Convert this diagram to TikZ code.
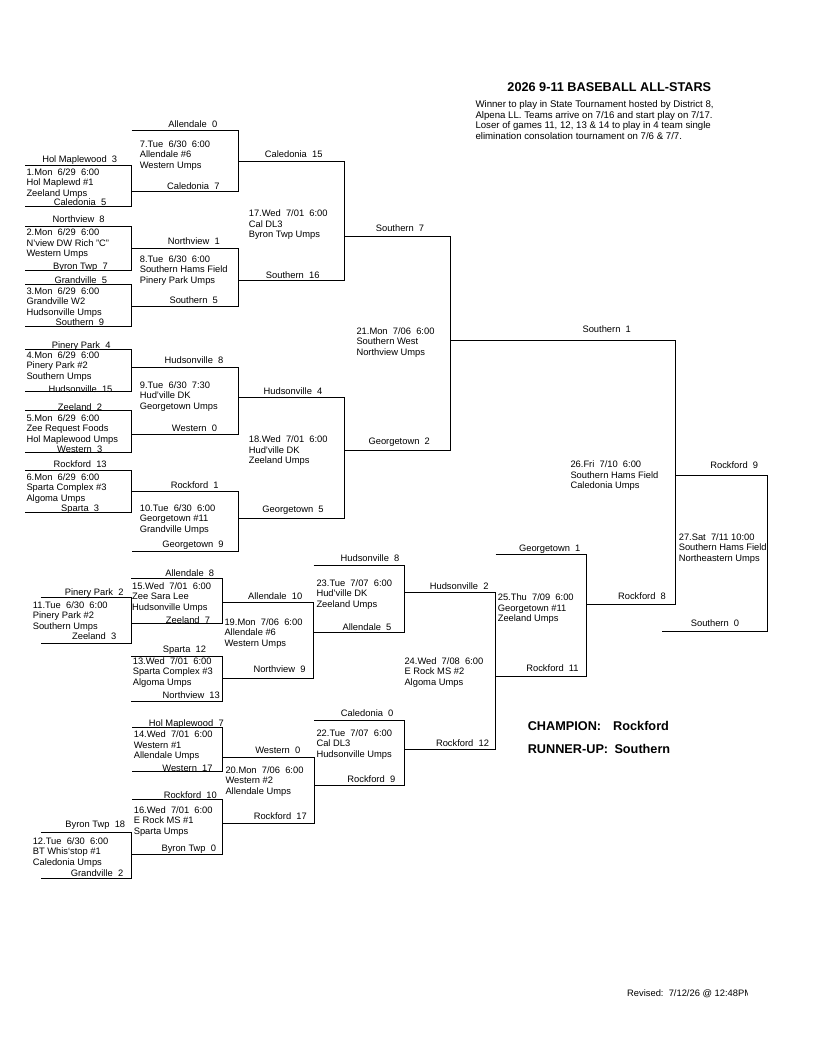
\documentclass[tikz,border=0pt]{standalone}
\usepackage{fontspec}
\setmainfont{Liberation Sans}

\begin{document}
\begin{tikzpicture}[x=1pt, y=-1pt, line width=1pt,
    team/.style={font=\fontsize{9.35}{10.5}\selectfont, anchor=base, inner sep=0pt},
    game/.style={font=\fontsize{9.35}{10.5}\selectfont, align=left, anchor=base west, inner sep=0pt},
    big/.style={font=\fontsize{12.7}{14}\selectfont\bfseries, inner sep=0pt}]
    \useasboundingbox[fill=white] (0,0) rectangle (816,1056);
    % heading
    \node[big, anchor=base] (title) at (609.3,91.8) {2026 9-11 BASEBALL ALL-STARS};
    \node[game, font=\fontsize{9.65}{10.5}\selectfont] (note) at (475,139.2) {Winner to play in State Tournament hosted by District 8,\\Alpena LL. Teams arrive on 7/16 and start play on 7/17.\\Loser of games 11, 12, 13 \& 14 to play in 4 team single\\elimination consolation tournament on 7/6 \& 7/7.};
    % games, first rounds (base = last line)
    \node[game] (g1) at (26,196.4) {1.Mon~~6/29~~6:00\\Hol Maplewd \#1\\Zeeland Umps};
    \node[game] (g2) at (26,256.7) {2.Mon~~6/29~~6:00\\N'view DW Rich "C"\\Western Umps};
    \node[game] (g3) at (26,315.4) {3.Mon~~6/29~~6:00\\Grandville W2\\Hudsonville Umps};
    \node[game] (g4) at (26,379.1) {4.Mon~~6/29~~6:00\\Pinery Park \#2\\Southern Umps};
    \node[game] (g5) at (26,442.4) {5.Mon~~6/29~~6:00\\Zee Request Foods\\Hol Maplewood Umps};
    \node[game] (g6) at (26,501.1) {6.Mon~~6/29~~6:00\\Sparta Complex \#3\\Algoma Umps};
    \node[game] (g7) at (139.3,168.4) {7.Tue~~6/30~~6:00\\Allendale \#6\\Western Umps};
    \node[game] (g8) at (139.3,283.4) {8.Tue~~6/30~~6:00\\Southern Hams Field\\Pinery Park Umps};
    \node[game] (g9) at (139.3,409.4) {9.Tue~~6/30~~7:30\\Hud'ville DK\\Georgetown Umps};
    \node[game] (g10) at (139.3,532.1) {10.Tue~~6/30~~6:00\\Georgetown \#11\\Grandville Umps};
    \node[game] (g11) at (32.3,629.4) {11.Tue~~6/30~~6:00\\Pinery Park \#2\\Southern Umps};
    \node[game] (g12) at (32.3,865.1) {12.Tue~~6/30~~6:00\\BT Whis`stop \#1\\Caledonia Umps};
    \node[game] (g13) at (132.3,685.4) {13.Wed~~7/01~~6:00\\Sparta Complex \#3\\Algoma Umps};
    \node[game] (g14) at (133.3,758.7) {14.Wed~~7/01~~6:00\\Western \#1\\Allendale Umps};
    \node[game] (g15) at (131.7,610.4) {15.Wed~~7/01~~6:00\\Zee Sara Lee\\Hudsonville Umps};
    \node[game] (g16) at (133.3,834.4) {16.Wed~~7/01~~6:00\\E Rock MS \#1\\Sparta Umps};
    % games, later rounds
    \node[game] (g17) at (248.3,237.7) {17.Wed~~7/01~~6:00\\Cal DL3\\Byron Twp Umps};
    \node[game] (g18) at (248.3,463.7) {18.Wed~~7/01~~6:00\\Hud'ville DK\\Zeeland Umps};
    \node[game] (g19) at (224,646.1) {19.Mon~~7/06~~6:00\\Allendale \#6\\Western Umps};
    \node[game] (g20) at (225,794.4) {20.Mon~~7/06~~6:00\\Western \#2\\Allendale Umps};
    \node[game] (g21) at (356,355.1) {21.Mon~~7/06~~6:00\\Southern West\\Northview Umps};
    \node[game] (g22) at (316,757.1) {22.Tue~~7/07~~6:00\\Cal DL3\\Hudsonville Umps};
    \node[game] (g23) at (316,607.1) {23.Tue~~7/07~~6:00\\Hud'ville DK\\Zeeland Umps};
    \node[game] (g24) at (404,685.1) {24.Wed~~7/08~~6:00\\E Rock MS \#2\\Algoma Umps};
    \node[game] (g25) at (497.3,621.7) {25.Thu~~7/09~~6:00\\Georgetown \#11\\Zeeland Umps};
    \node[game] (g26) at (570,488.7) {26.Fri~~7/10~~6:00\\Southern Hams Field\\Caledonia Umps};
    \node[game] (g27) at (678.3,561.1) {27.Sat~~7/11 10:00\\Southern Hams Field\\Northeastern Umps};
    % teams, top half
    \node[team] (t1a) at (79.7,162.7) {Hol Maplewood~~3};
    \node[team] (t1b) at (80,205.7) {Caledonia~~5};
    \node[team] (t2a) at (78.7,222.1) {Northview~~8};
    \node[team] (t2b) at (80.5,269.1) {Byron Twp~~7};
    \node[team] (t3a) at (80.8,283.4) {Grandville~~5};
    \node[team] (t3b) at (79.8,325.7) {Southern~~9};
    \node[team] (t4a) at (81.2,348.1) {Pinery Park~~4};
    \node[team] (t4b) at (80.5,392.4) {Hudsonville~~15};
    \node[team] (t5a) at (80,410.1) {Zeeland~~2};
    \node[team] (t5b) at (79.7,452.1) {Western~~3};
    \node[team] (t6a) at (80.2,467.1) {Rockford~~13};
    \node[team] (t6b) at (80.2,511.1) {Sparta~~3};
    \node[team] (t7a) at (192.8,127.4) {Allendale~~0};
    \node[team] (t7b) at (193.3,189.4) {Caledonia~~7};
    \node[team] (t8a) at (193.8,244.1) {Northview~~1};
    \node[team] (t8b) at (193.7,303.4) {Southern~~5};
    \node[team] (t9a) at (194,363.4) {Hudsonville~~8};
    \node[team] (t9b) at (194.5,431.1) {Western~~0};
    \node[team] (t10a) at (194.7,488.7) {Rockford~~1};
    \node[team] (t10b) at (193,547.7) {Georgetown~~9};
    \node[team] (t17a) at (293.7,157.4) {Caledonia~~15};
    \node[team] (t17b) at (292.7,278.4) {Southern~~16};
    \node[team] (t18a) at (293,394.1) {Hudsonville~~4};
    \node[team] (t18b) at (293,512.1) {Georgetown~~5};
    \node[team] (t21a) at (400,231.7) {Southern~~7};
    \node[team] (t21b) at (399.2,444.1) {Georgetown~~2};
    \node[team] (t26a) at (606.7,332.7) {Southern~~1};
    \node[team] (t26b) at (642,599.1) {Rockford~~8};
    \node[team] (t27a) at (734.2,468.7) {Rockford~~9};
    \node[team] (t27b) at (715,626.1) {Southern~~0};
    % teams, bottom half
    \node[team] (t11a) at (94.2,595.4) {Pinery Park~~2};
    \node[team] (t11b) at (94.2,639.1) {Zeeland~~3};
    \node[team] (t12a) at (95.3,827.4) {Byron Twp~~18};
    \node[team] (t12b) at (97,876.7) {Grandville~~2};
    \node[team] (t13a) at (184.5,652.7) {Sparta~~12};
    \node[team] (t13b) at (191.3,698.7) {Northview~~13};
    \node[team] (t14a) at (186.3,726.1) {Hol Maplewood~~7};
    \node[team] (t14b) at (187.5,771.1) {Western~~17};
    \node[team] (t15a) at (189.7,576.1) {Allendale~~8};
    \node[team] (t15b) at (188,623.4) {Zeeland~~7};
    \node[team] (t16a) at (190.3,798.1) {Rockford~~10};
    \node[team] (t16b) at (188.8,851.1) {Byron Twp~~0};
    \node[team] (t19a) at (275.2,599.1) {Allendale~~10};
    \node[team] (t19b) at (279.5,672.1) {Northview~~9};
    \node[team] (t20a) at (277.8,753.4) {Western~~0};
    \node[team] (t20b) at (280.3,819.4) {Rockford~~17};
    \node[team] (t22a) at (367.2,716.1) {Caledonia~~0};
    \node[team] (t22b) at (371.3,782.1) {Rockford~~9};
    \node[team] (t23a) at (370,561.7) {Hudsonville~~8};
    \node[team] (t23b) at (367,630.7) {Allendale~~5};
    \node[team] (t24a) at (459.2,589.4) {Hudsonville~~2};
    \node[team] (t24b) at (462.5,746.1) {Rockford~~12};
    \node[team] (t25a) at (549.7,551.1) {Georgetown~~1};
    \node[team] (t25b) at (552.5,671.1) {Rockford~~11};
    % brackets, top half
    \draw (25,165.7) -| (131.5,206.7) -- (25,206.7);
    \draw (25,226.7) -| (131.5,271) -- (25,271);
    \draw (25,284.3) -| (131.5,326.7) -- (25,326.7);
    \draw (25,349.3) -| (131.5,391) -- (25,391);
    \draw (25,410) -| (131.5,452.3) -- (25,452.3);
    \draw (25,470) -| (131.5,512.7) -- (25,512.7);
    \draw (131.5,130.7) -| (238.3,191.7) -- (131.5,191.7);
    \draw (131.5,248.3) -| (238.3,306) -- (131.5,306);
    \draw (131.5,367.3) -| (238.3,434) -- (131.5,434);
    \draw (131.5,491.7) -| (238.3,551.7) -- (131.5,551.7);
    \draw (238.3,161.7) -| (344.3,281) -- (238.3,281);
    \draw (238.3,397.3) -| (344.3,518.3) -- (238.3,518.3);
    \draw (344.3,236.7) -| (450.7,450) -- (344.3,450);
    \draw (450.7,340.3) -| (675.7,604) -- (586,604);
    \draw (675.7,475) -| (767.3,631.7) -- (661.7,631.7);
    % brackets, bottom half
    \draw (40.5,597.3) -| (131,643.3) -- (40.5,643.3);
    \draw (40.5,832.3) -| (131,878.3) -- (40.5,878.3);
    \draw (131,578.3) -| (222,623.3) -- (131,623.3);
    \draw (131,656.7) -| (222,701) -- (131,701);
    \draw (132,727.7) -| (222.5,771.7) -- (132,771.7);
    \draw (132,799) -| (222.5,854.3) -- (131,854.3);
    \draw (222,602.3) -| (313.5,678.3) -- (222,678.3);
    \draw (222.5,757.3) -| (314,823.3) -- (222.5,823.3);
    \draw (313.5,565) -| (404.5,632.7) -- (313.5,632.7);
    \draw (314,720.7) -| (404.7,785) -- (314,785);
    \draw (404.5,592.3) -| (495.5,749) -- (404.7,749);
    \draw (495.5,554.3) -| (586,676) -- (495.5,676);
    % result
    \node[big, anchor=base west] (champ) at (527.3,730.5) {CHAMPION:};
    \node[big, anchor=base west] (champname) at (612.7,730.5) {Rockford};
    \node[big, anchor=base west] (runner) at (527.3,753.8) {RUNNER-UP:};
    \node[big, anchor=base west] (runnername) at (614,753.8) {Southern};
    % footer
    \begin{scope}
        \clip (600,980) rectangle (747,1005);
        \node[game] (revised) at (626.7,996.7) {Revised:~~7/12/26 @ 12:48PM};
    \end{scope}
\end{tikzpicture}
\end{document}
